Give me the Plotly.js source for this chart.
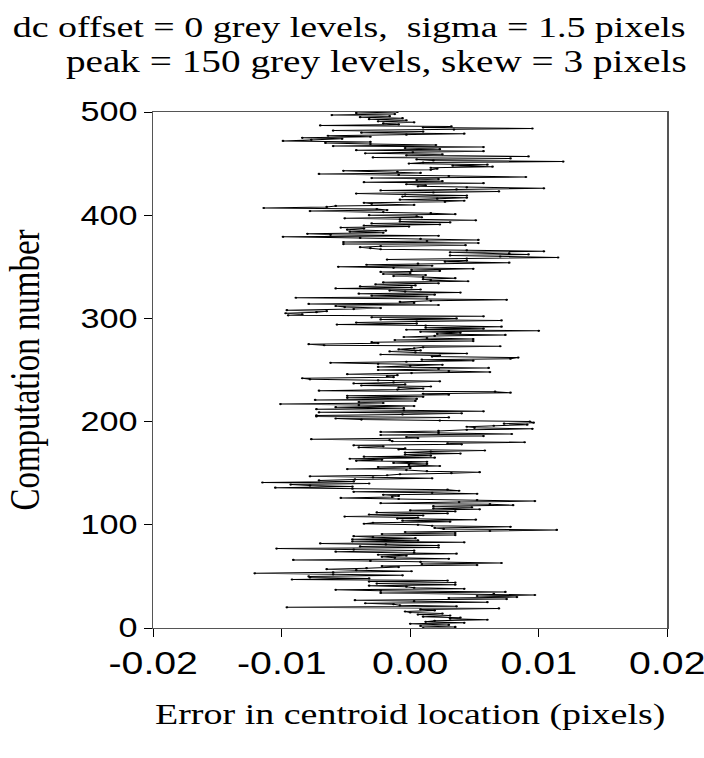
<!DOCTYPE html>
<html>
<head>
<meta charset="utf-8">
<script src="https://cdn.plot.ly/plotly-3.0.1.min.js"></script>
<style>
html,body{margin:0;padding:0;background:#fff;overflow:hidden;}
/* the reference figure is a horizontally stretched rendering; reproduce that stretch */
#chart{width:556px;height:758px;transform:scaleX(1.2662);transform-origin:0 0;}
</style>
</head>
<body>
<div id="chart"></div>
<script>
// Error in centroid location (pixels), listed from computation 500 down to computation 0
const centroidErrorFrom500 = [
-0.0010,-0.0042,-0.0012,-0.0061,-0.0016,-0.0039,-0.0006,-0.0032,-0.0003,-0.0025,
0.0003,-0.0021,-0.0009,-0.0070,0.0032,0.0010,0.0095,0.0034,-0.0060,0.0010,
-0.0038,0.0042,-0.0003,-0.0064,-0.0031,-0.0084,-0.0053,-0.0077,-0.0099,-0.0031,
-0.0066,-0.0031,0.0020,-0.0060,0.0057,-0.0004,0.0023,-0.0042,0.0057,0.0002,
-0.0035,0.0025,-0.0003,0.0092,-0.0029,0.0078,0.0005,0.0018,0.0119,0.0010,
-0.0001,0.0060,0.0033,0.0064,0.0016,0.0021,0.0016,-0.0052,-0.0010,0.0008,
-0.0071,-0.0009,0.0030,0.0090,-0.0030,0.0022,0.0005,0.0025,-0.0036,0.0057,
-0.0003,0.0012,0.0006,0.0044,0.0104,0.0036,-0.0023,0.0069,0.0018,-0.0042,
-0.0004,0.0044,
-0.0006,0.0044,0.0021,-0.0008,0.0042,0.0027,-0.0036,-0.0030,0.0003,-0.0058,
-0.0065,-0.0114,-0.0026,-0.0018,-0.0078,-0.0021,0.0016,0.0035,-0.0032,0.0005,
0.0009,-0.0051,-0.0008,0.0051,-0.0008,0.0031,-0.0030,0.0023,-0.0036,-0.0001,
-0.0054,-0.0036,-0.0049,-0.0019,-0.0047,-0.0021,-0.0080,-0.0062,0.0022,-0.0099,
-0.0039,0.0008,0.0053,
0.0013,-0.0052,0.0053,-0.0052,0.0043,-0.0023,-0.0039,-0.0031,-0.0023,0.0044,
0.0104,0.0031,0.0077,0.0092,0.0031,0.0070,0.0115,0.0044,-0.0018,0.0044,
0.0027,0.0077,0.0006,-0.0034,0.0017,-0.0056,-0.0013,0.0049,0.0001,0.0023,
-0.0023,0.0000,-0.0021,0.0012,-0.0013,0.0010,0.0035,0.0010,0.0016,0.0045,
-0.0021,0.0022,
-0.0027,0.0004,-0.0039,0.0001,-0.0058,0.0008,-0.0016,-0.0004,0.0039,-0.0040,
0.0019,-0.0030,0.0013,-0.0089,0.0013,0.0075,0.0016,-0.0008,0.0003,-0.0079,
0.0022,-0.0058,-0.0051,-0.0023,-0.0044,-0.0096,-0.0065,-0.0073,-0.0097,-0.0084,
-0.0095,0.0057,-0.0030,0.0036,-0.0023,0.0071,0.0005,-0.0042,0.0005,-0.0057,
0.0012,0.0071,0.0012,
0.0057,-0.0003,0.0100,0.0008,0.0039,0.0021,0.0074,0.0019,-0.0005,0.0013,
0.0049,-0.0012,0.0049,-0.0030,-0.0025,-0.0079,-0.0067,0.0070,0.0010,0.0003,
-0.0009,0.0008,-0.0016,0.0004,0.0044,-0.0023,0.0023,0.0017,0.0084,0.0078,
0.0009,0.0049,-0.0003,-0.0062,-0.0025,0.0025,0.0000,-0.0025,0.0061,0.0022,
-0.0025,0.0030,
0.0062,0.0001,-0.0049,-0.0010,-0.0018,-0.0013,-0.0084,-0.0078,-0.0025,0.0023,
-0.0013,-0.0044,-0.0004,-0.0038,0.0016,-0.0009,0.0010,-0.0010,-0.0071,0.0066,
0.0078,0.0010,0.0030,-0.0049,0.0010,-0.0049,0.0005,-0.0074,0.0004,-0.0040,
-0.0021,-0.0101,-0.0040,0.0003,-0.0058,-0.0005,-0.0073,-0.0005,0.0057,-0.0071,
0.0040,-0.0006,-0.0073,
-0.0073,0.0030,-0.0058,-0.0038,0.0023,0.0093,0.0096,0.0073,0.0091,0.0065,
0.0044,0.0050,0.0095,0.0044,0.0022,-0.0023,0.0022,0.0079,-0.0023,0.0057,
-0.0003,0.0006,-0.0077,-0.0016,-0.0014,0.0089,0.0029,0.0040,-0.0044,-0.0021,
-0.0040,-0.0004,-0.0009,0.0058,0.0016,-0.0004,0.0039,-0.0004,0.0016,-0.0036,
0.0019,-0.0047,-0.0022,
-0.0042,0.0013,-0.0013,0.0013,-0.0001,0.0023,-0.0025,0.0000,-0.0049,-0.0003,
0.0013,0.0054,0.0032,-0.0008,-0.0018,-0.0078,-0.0029,0.0017,-0.0043,-0.0071,
-0.0044,-0.0115,-0.0032,-0.0093,-0.0078,-0.0045,-0.0105,-0.0045,0.0029,0.0038,
-0.0044,0.0017,0.0052,-0.0021,-0.0009,-0.0014,-0.0054,-0.0009,0.0052,0.0097,
0.0038,-0.0023,0.0062,
0.0080,0.0018,0.0048,0.0018,0.0054,0.0000,0.0035,-0.0026,0.0029,-0.0032,
0.0010,-0.0051,0.0006,-0.0010,0.0051,-0.0006,0.0031,-0.0029,-0.0036,0.0006,
0.0017,0.0078,0.0019,0.0026,0.0114,0.0062,-0.0004,0.0035,-0.0022,0.0035,
-0.0044,-0.0029,0.0004,-0.0045,0.0006,-0.0045,0.0042,-0.0070,-0.0019,0.0022,
-0.0039,0.0022,
-0.0104,-0.0044,0.0003,-0.0058,0.0003,0.0036,-0.0025,-0.0003,-0.0022,-0.0012,
0.0030,-0.0091,-0.0031,0.0008,0.0071,0.0009,0.0052,-0.0022,-0.0009,-0.0034,
-0.0065,-0.0042,0.0001,-0.0060,-0.0121,-0.0060,-0.0006,-0.0079,-0.0078,-0.0032,
-0.0092,0.0029,-0.0032,0.0035,-0.0026,0.0035,-0.0032,-0.0003,0.0003,0.0042,
-0.0058,-0.0023,0.0074,
-0.0023,0.0065,0.0097,0.0052,0.0083,0.0030,0.0075,-0.0043,0.0003,0.0060,
-0.0035,-0.0013,-0.0008,0.0036,-0.0096,0.0069,0.0008,0.0019,-0.0004,0.0000,
0.0025,0.0006,0.0031,0.0010,0.0039,0.0031,0.0060,0.0019,0.0012,0.0042,
0.0000,0.0030,0.0008,0.0035,0.0010
];
const lastComputation = 500;
const xTickValues = [-0.02, -0.01, 0, 0.01, 0.02];
const xTickLabels = ['-0.02', '-0.01', '0.00', '0.01', '0.02'];
const yTickValues = [0, 100, 200, 300, 400, 500];
const yTickLabels = ['0', '100', '200', '300', '400', '500'];
const titleLines = ['dc offset = 0 grey levels,&nbsp; sigma = 1.5 pixels', 'peak = 150 grey levels, skew = 3 pixels'];
const xTitle = 'Error in centroid location (pixels)';
const yTitle = 'Computation number';

const computationNumber = centroidErrorFrom500.map((_, i) => lastComputation - i);

const trace = {
  x: centroidErrorFrom500,
  y: computationNumber,
  type: 'scatter',
  mode: 'lines+markers',
  line: {color: '#000000', width: 1},
  marker: {color: '#000000', size: 2.2},
  hoverinfo: 'x+y'
};

const serif = '"Liberation Serif", "Times New Roman", serif';
const sans = '"Liberation Sans", Arial, sans-serif';

// plot frame in final pixels: x 153..667, y 112..628 (scale 1.2662 horizontally)
const layout = {
  width: 556,
  height: 758,
  margin: {l: 120.8, r: 29.2, t: 112, b: 130},
  paper_bgcolor: '#ffffff',
  plot_bgcolor: '#ffffff',
  showlegend: false,
  xaxis: {
    range: [-0.02, 0.02],
    tickvals: xTickValues,
    ticktext: xTickLabels,
    ticks: 'outside',
    ticklen: 8,
    tickcolor: '#000',
    tickwidth: 1,
    ticklabeloverflow: 'allow',
    showline: true,
    linecolor: '#555',
    linewidth: 1,
    mirror: true,
    showgrid: false,
    zeroline: false,
    tickfont: {family: sans, size: 31, color: '#000'},
    title: {text: xTitle, font: {family: serif, size: 30, color: '#000'}, standoff: 22}
  },
  yaxis: {
    range: [0, 500],
    tickvals: yTickValues,
    ticktext: yTickLabels,
    ticks: 'outside',
    ticklen: 6,
    tickcolor: '#000',
    tickwidth: 1,
    ticklabeloverflow: 'allow',
    showline: true,
    linecolor: '#555',
    linewidth: 1,
    mirror: true,
    showgrid: false,
    zeroline: false,
    tickfont: {family: sans, size: 27, color: '#000'},
    title: {text: yTitle, font: {family: serif, size: 33, color: '#000'}, standoff: 22}
  },
  annotations: [
    {text: titleLines[0], xref: 'paper', yref: 'paper', x: 1.042, y: 1.165, xanchor: 'right', yanchor: 'middle', showarrow: false, font: {family: serif, size: 30, color: '#000'}},
    {text: titleLines[1], xref: 'paper', yref: 'paper', x: 1.042, y: 1.097, xanchor: 'right', yanchor: 'middle', showarrow: false, font: {family: serif, size: 31, color: '#000'}}
  ]
};

Plotly.newPlot('chart', [trace], layout, {displayModeBar: false, staticPlot: true});
</script>
</body>
</html>
